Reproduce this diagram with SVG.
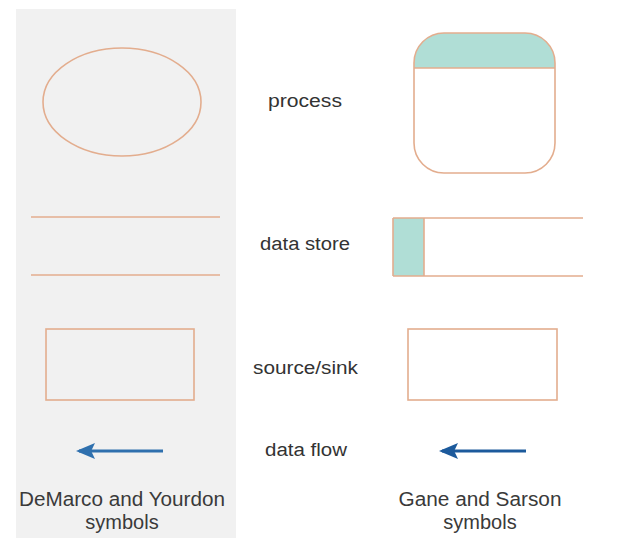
<svg xmlns="http://www.w3.org/2000/svg" width="617" height="547" viewBox="0 0 617 547">
<defs>
<style>
.sh{fill:none;stroke:#e3ad8e;stroke-width:1.6}
.lbl{font-family:"Liberation Sans",Arial,sans-serif;font-size:18px;fill:#333;text-anchor:middle}
.cap{font-family:"Liberation Sans",Arial,sans-serif;font-size:20px;fill:#3a3a3a;text-anchor:middle}
.teal{fill:#b0ded6}
</style>
<marker id="ahL" markerWidth="6" markerHeight="5" refX="5" refY="2.5" orient="auto" markerUnits="strokeWidth">
<path d="M0,0 L6,2.5 L0,5 L1.2,2.5 Z" fill="#2f70ae"/>
</marker>
<marker id="ahR" markerWidth="6" markerHeight="5" refX="5" refY="2.5" orient="auto" markerUnits="strokeWidth">
<path d="M0,0 L6,2.5 L0,5 L1.2,2.5 Z" fill="#1c5a9c"/>
</marker>
</defs>
<rect width="617" height="547" fill="#ffffff"/>
<rect id="panel" x="16" y="9" width="220" height="529" fill="#f1f1f1"/>

<g id="dm-process"><ellipse class="sh" cx="122" cy="102" rx="79" ry="54"/></g>
<g id="dm-datastore">
<line class="sh" x1="31" y1="217" x2="220" y2="217"/>
<line class="sh" x1="31" y1="275" x2="220" y2="275"/>
</g>
<g id="dm-source"><rect class="sh" x="46" y="329" width="148" height="71"/></g>

<g id="gs-process">
<path class="teal" d="M414,68 L414,63 A30,30 0 0 1 444,33 L525,33 A30,30 0 0 1 555,63 L555,68 Z"/>
<rect class="sh" x="414" y="33" width="141" height="140" rx="30" ry="30"/>
<line class="sh" x1="414" y1="68" x2="555" y2="68"/>
</g>
<g id="gs-datastore">
<rect class="teal" x="393" y="218" width="31" height="58"/>
<line class="sh" x1="393" y1="218" x2="583" y2="218"/>
<line class="sh" x1="393" y1="276" x2="583" y2="276"/>
<line class="sh" x1="393" y1="218" x2="393" y2="276"/>
<line class="sh" x1="424" y1="218" x2="424" y2="276"/>
</g>
<g id="gs-source"><rect class="sh" x="408" y="329" width="149" height="71"/></g>

<g id="connectors">
<line x1="163" y1="451" x2="79" y2="451" stroke="#2f70ae" stroke-width="3.2" marker-end="url(#ahL)"/>
<line x1="526" y1="451" x2="442" y2="451" stroke="#1c5a9c" stroke-width="3.2" marker-end="url(#ahR)"/>
</g>

<g id="labels">
<text class="lbl" x="305" y="107" textLength="74" lengthAdjust="spacingAndGlyphs">process</text>
<text class="lbl" x="305" y="250" textLength="90" lengthAdjust="spacingAndGlyphs">data store</text>
<text class="lbl" x="305.5" y="374" textLength="105" lengthAdjust="spacingAndGlyphs">source/sink</text>
<text class="lbl" x="306" y="456" textLength="82" lengthAdjust="spacingAndGlyphs">data flow</text>
<text class="cap" x="122" y="506" textLength="206" lengthAdjust="spacingAndGlyphs">DeMarco and Yourdon</text>
<text class="cap" x="122" y="529">symbols</text>
<text class="cap" x="480" y="506" textLength="163" lengthAdjust="spacingAndGlyphs">Gane and Sarson</text>
<text class="cap" x="480" y="529">symbols</text>
</g>
</svg>
